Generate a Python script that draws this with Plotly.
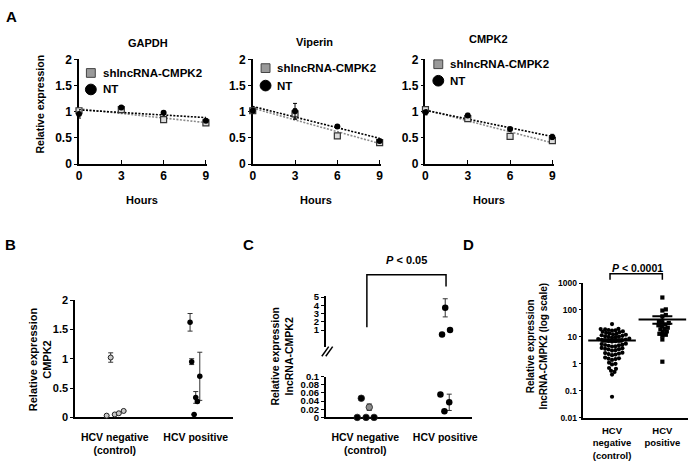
import numpy as np
import plotly.graph_objects as go

W, H = 696, 470
FONT = "Liberation Sans, Arial, sans-serif"

# ---------------- data ----------------
hours = [0, 3, 6, 9]
genes = ["GAPDH", "Viperin", "CMPK2"]
series_names = ["shlncRNA-CMPK2", "NT"]

gapdh_sh = [1.02, 1.04, 0.85, 0.79]
gapdh_sh_err = [0.04, 0.02, 0.03, 0.03]
gapdh_nt = [0.96, 1.08, 0.98, 0.83]
gapdh_nt_err = [0.08, 0.02, 0.03, 0.03]

viperin_sh = [1.02, 0.96, 0.54, 0.41]
viperin_sh_err = [0.04, 0.10, 0.03, 0.03]
viperin_nt = [1.02, 1.01, 0.72, 0.44]
viperin_nt_err = [0.04, 0.15, 0.03, 0.03]

cmpk2_sh = [1.04, 0.87, 0.53, 0.45]
cmpk2_sh_err = [0.03, 0.03, 0.03, 0.03]
cmpk2_nt = [0.99, 0.93, 0.67, 0.52]
cmpk2_nt_err = [0.05, 0.04, 0.02, 0.05]

a_ticks_y = [0, 0.5, 1, 1.5, 2]
a_ticktext_y = ["0", "0.5", "1", "1.5", "2"]

groups = ["HCV negative<br>(control)", "HCV positive"]

# panel B: CMPK2 relative expression
b_neg = [1.02, 0.03, 0.05, 0.07, 0.11]
b_neg_err = [0.08, None, None, None, None]
b_neg_offset = [-0.05, -0.10, 0.0, 0.05, 0.11]
b_pos = [1.62, 0.95, 0.70, 0.34, 0.27, 0.05]
b_pos_err = [0.15, 0.05, 0.41, 0.10, 0.02, None]
b_pos_offset = [-0.07, -0.05, 0.05, 0.0, 0.02, -0.02]

# panel C: lncRNA-CMPK2 relative expression (broken axis)
c_neg = [0.047, 0.025, 0.0, 0.0, 0.0]
c_neg_err = [None, 0.008, None, None, None]
c_neg_offset = [-0.05, 0.05, -0.10, 0.01, 0.11]
c_pos_low = [0.056, 0.037, 0.015]
c_pos_low_err = [None, 0.02, None]
c_pos_low_offset = [-0.06, 0.05, -0.01]
c_pos_high = [3.7, 0.45, 1.0]
c_pos_high_err = [1.1, None, None]
c_pos_high_offset = [0.0, -0.04, 0.06]
c_low_ticks = [0, 0.02, 0.04, 0.06, 0.08, 0.1]
c_low_ticktext = ["0", "0.02", "0.04", "0.06", "0.08", "0.1"]
c_high_ticks = [1, 2, 3, 4, 5]

# panel D: lncRNA-CMPK2 (log scale)
d_neg = [30,
         20, 19.5, 19, 18, 17.5, 17, 16, 15.5, 15, 14, 13.5, 13, 12.5, 12, 11.5, 11, 10.5, 10.2, 10, 9.8, 9.5,
         8.6, 8.3, 8.0, 7.8, 7.6, 7.5, 7.3, 7.1, 6.9, 6.7,
         5.6, 5.4, 5.2, 5.0, 4.9, 4.7, 4.5, 4.4,
         3.9, 3.8, 3.6, 3.5, 3.4, 3.2, 3.1,
         2.6, 2.5, 2.4, 2.3, 2.2, 2.1,
         1.7, 1.6, 1.55, 1.5, 1.4,
         1.1, 1.0, 0.95,
         0.7, 0.65, 0.55, 0.5, 0.4, 0.06]
d_pos = [290, 105, 95, 65, 58, 38, 35, 33, 29, 27, 25, 22, 20, 19, 16, 15, 13, 12, 11, 8, 1.2]
d_ticks = [0.01, 0.1, 1, 10, 100, 1000]
d_ticktext = ["0.01", "0.1", "1", "10", "100", "1000"]
d_groups = ["HCV<br>negative<br>(control)", "HCV<br>positive"]


def X(px):
    return px / W


def Y(py):
    return 1 - py / H


def bold(size):
    return dict(family=FONT, size=size, color="black", weight="bold")


def base_axis(**kw):
    d = dict(showgrid=False, zeroline=False, showline=True, linecolor="black",
             linewidth=1.5, ticks="outside", ticklen=3, tickwidth=1.2,
             tickcolor="black", tickfont=bold(12), layer="below traces",
             fixedrange=True)
    d.update(kw)
    return d


def label(text, x, y, size, xref="paper", yref="paper", xanchor="center", angle=0):
    return dict(text=text, x=x, y=y, xref=xref, yref=yref, xanchor=xanchor,
                yanchor="middle", textangle=angle, showarrow=False, font=bold(size))


fig = go.Figure()
layout = dict(width=W, height=H, margin=dict(l=0, r=0, t=0, b=0),
              paper_bgcolor="white", plot_bgcolor="rgba(0,0,0,0)",
              showlegend=False, font=dict(family=FONT, color="black"))
annotations = []
shapes = []

# ---------------- panel A ----------------
a_sets = [(gapdh_sh, gapdh_sh_err, gapdh_nt, gapdh_nt_err),
          (viperin_sh, viperin_sh_err, viperin_nt, viperin_nt_err),
          (cmpk2_sh, cmpk2_sh_err, cmpk2_nt, cmpk2_nt_err)]
a_left = [77, 253, 428]
a_title_pos = [(147, 37), (316, 36), (492, 33)]
a_legend_y = [(68, 85), (63, 81), (59, 76)]
a_legend_x = [89, 266, 441]

for i, (sh, sh_e, nt, nt_e) in enumerate(a_sets):
    sfx = "" if i == 0 else str(i + 1)
    xid, yid = "x" + sfx, "y" + sfx
    layout["xaxis" + sfx] = base_axis(domain=[X(a_left[i]), X(a_left[i] + 130)],
                                      range=[0, 9.1], anchor=yid, tickvals=hours,
                                      ticks="inside", ticklen=4)
    layout["yaxis" + sfx] = base_axis(domain=[Y(162), Y(54)], range=[0, 2],
                                      anchor=xid, tickvals=a_ticks_y,
                                      ticktext=a_ticktext_y)
    # fitted trend lines
    for vals, col in ((sh, "#8a8a8a"), (nt, "black")):
        k, b = np.polyfit(hours, vals, 1)
        xs = np.array([hours[0], hours[-1]], dtype=float)
        fig.add_trace(go.Scatter(x=xs, y=k * xs + b, mode="lines", xaxis=xid, yaxis=yid,
                                 line=dict(color=col, width=1.6, dash="2px,1.5px"),
                                 hoverinfo="skip", cliponaxis=False))
    fig.add_trace(go.Scatter(x=hours, y=sh, mode="markers", xaxis=xid, yaxis=yid,
                             name=series_names[0], cliponaxis=False,
                             marker=dict(symbol="square", size=6, color="#dcdcdc",
                                         line=dict(color="#333333", width=1.2)),
                             error_y=dict(type="data", array=sh_e, color="#333333",
                                          thickness=1, width=2)))
    fig.add_trace(go.Scatter(x=hours, y=nt, mode="markers", xaxis=xid, yaxis=yid,
                             name=series_names[1], cliponaxis=False,
                             marker=dict(symbol="circle", size=6, color="black"),
                             error_y=dict(type="data", array=nt_e, color="black",
                                          thickness=1, width=2)))
    tx, ty = a_title_pos[i]
    annotations.append(label(genes[i], X(tx), Y(ty), 11))
    annotations.append(label("Hours", X(a_left[i] + 64), Y(199), 11))
    # legend keys
    lx = a_legend_x[i]
    ly1, ly2 = a_legend_y[i]
    shapes.append(dict(type="rect", xref="paper", yref="paper",
                       x0=X(lx - 4.5), x1=X(lx + 4.5), y0=Y(ly1 + 4.5), y1=Y(ly1 - 4.5),
                       fillcolor="#9a9a9a", line=dict(color="#444444", width=1)))
    shapes.append(dict(type="circle", xref="paper", yref="paper",
                       x0=X(lx - 5.5), x1=X(lx + 5.5), y0=Y(ly2 + 5.5), y1=Y(ly2 - 5.5),
                       fillcolor="black", line=dict(color="black", width=1)))
    annotations.append(label(series_names[0], X(lx + 10), Y(ly1), 11.5, xanchor="left"))
    annotations.append(label(series_names[1], X(lx + 10), Y(ly2), 11.5, xanchor="left"))

annotations.append(label("Relative expression", X(37), Y(100), 10.5, angle=-90))

# ---------------- panel B ----------------
layout["xaxis4"] = base_axis(domain=[X(73), X(233)], range=[-0.49, 1.46], anchor="y4",
                             tickvals=[0, 1], ticktext=groups, tickfont=bold(10.5),
                             ticklen=9, tickcolor="rgba(0,0,0,0)")
layout["yaxis4"] = base_axis(domain=[Y(423), Y(302)], range=[0, 2], anchor="x4",
                             tickvals=[0, 0.5, 1, 1.5, 2],
                             ticktext=["0", "0.5", "1", "1.5", "2"], tickfont=bold(11))
fig.add_trace(go.Scatter(x=[0 + o for o in b_neg_offset], y=b_neg, mode="markers",
                         xaxis="x4", yaxis="y4", cliponaxis=False,
                         marker=dict(size=5, color="#c8c8c8", line=dict(color="#222", width=1)),
                         error_y=dict(type="data", array=b_neg_err, color="#333",
                                      thickness=1, width=2.5)))
fig.add_trace(go.Scatter(x=[1 + o for o in b_pos_offset], y=b_pos, mode="markers",
                         xaxis="x4", yaxis="y4", cliponaxis=False,
                         marker=dict(size=5.5, color="black"),
                         error_y=dict(type="data", array=b_pos_err, color="#333",
                                      thickness=1, width=2.5)))
annotations.append(label("Relative expression<br>CMPK2", X(37.5), Y(363), 11, angle=-90))

# ---------------- panel C ----------------
layout["xaxis5"] = base_axis(domain=[X(327), X(475)], range=[-0.494, 1.333], anchor="y5",
                             tickvals=[0, 1], ticktext=groups, tickfont=bold(10.5),
                             ticklen=9, tickcolor="rgba(0,0,0,0)")
layout["yaxis5"] = base_axis(domain=[Y(423), Y(381)], range=[0, 0.1], anchor="x5",
                             tickvals=c_low_ticks, ticktext=c_low_ticktext,
                             tickfont=bold(9.5))
layout["yaxis6"] = base_axis(domain=[Y(350), Y(298)], range=[-1, 5.12], anchor="x5",
                             tickvals=c_high_ticks, tickfont=bold(9.5))
fig.add_trace(go.Scatter(x=[0 + o for o in c_neg_offset], y=c_neg, mode="markers",
                         xaxis="x5", yaxis="y5", cliponaxis=False,
                         marker=dict(size=6.5, color=["black", "#8c8c8c", "black", "black", "black"],
                                     line=dict(color="#222", width=0.8)),
                         error_y=dict(type="data", array=c_neg_err, color="#333",
                                      thickness=1, width=2.5)))
fig.add_trace(go.Scatter(x=[1 + o for o in c_pos_low_offset], y=c_pos_low, mode="markers",
                         xaxis="x5", yaxis="y5", cliponaxis=False,
                         marker=dict(size=6.5, color="black"),
                         error_y=dict(type="data", array=c_pos_low_err, color="#333",
                                      thickness=1, width=2.5)))
fig.add_trace(go.Scatter(x=[1 + o for o in c_pos_high_offset], y=c_pos_high, mode="markers",
                         xaxis="x5", yaxis="y6", cliponaxis=False,
                         marker=dict(size=6.5, color="black"),
                         error_y=dict(type="data", array=c_pos_high_err, color="#333",
                                      thickness=1, width=2.5)))
annotations.append(label("Relative expression<br>lncRNA-CMPK2", X(283), Y(360), 10.5, angle=-90))
# axis break marks
for dx in (0, 4):
    shapes.append(dict(type="line", xref="paper", yref="paper",
                       x0=X(323 + dx), y0=Y(360), x1=X(330 + dx), y1=Y(350),
                       line=dict(color="black", width=1.5)))
# significance bracket
shapes.append(dict(type="path", xref="x5", yref="paper",
                   path=f"M 0.02,{Y(330)} L 0.02,{Y(276)} L 1.01,{Y(276)} L 1.01,{Y(288)}",
                   line=dict(color="black", width=1.5)))
annotations.append(label("<i>P</i> &lt; 0.05", 0.52, Y(261), 11, xref="x5"))


# ---------------- panel D ----------------
def swarm(vals, px_per_unit, px_per_decade, diam):
    vals = np.asarray(vals, dtype=float)
    order = np.argsort(vals)
    placed = []
    offs = np.zeros(len(vals))
    for i in order:
        yy = np.log10(vals[i]) * px_per_decade
        chosen = 0.0
        for k in range(400):
            found = False
            for s in ((0,) if k == 0 else (1, -1)):
                xx = s * k * 0.5
                if all((xx - px) ** 2 + (yy - py) ** 2 >= diam ** 2 for px, py in placed):
                    chosen = xx
                    found = True
                    break
            if found:
                break
        placed.append((chosen, yy))
        offs[i] = chosen / px_per_unit
    return offs


d_px_unit = 51.0
d_px_dec = 27.8
neg_off = swarm(d_neg, d_px_unit, d_px_dec, 3.4)
pos_off = swarm(d_pos, d_px_unit, d_px_dec, 3.6)

layout["xaxis6"] = base_axis(domain=[X(588), X(694)], range=[-0.569, 1.51], anchor="y7",
                             tickvals=[0, 1], ticktext=d_groups, tickfont=bold(9.5),
                             ticklen=3, tickcolor="rgba(0,0,0,0)")
layout["yaxis7"] = base_axis(domain=[Y(423.3), Y(284.5)], type="log", range=[-2, 3],
                             anchor="x6", tickvals=d_ticks, ticktext=d_ticktext,
                             tickfont=bold(8.5))
fig.add_trace(go.Scatter(x=0 + neg_off, y=d_neg, mode="markers", xaxis="x6", yaxis="y7",
                         cliponaxis=False, marker=dict(size=4.2, color="black")))
fig.add_trace(go.Scatter(x=1 + pos_off, y=d_pos, mode="markers", xaxis="x6", yaxis="y7",
                         cliponaxis=False, marker=dict(symbol="square", size=4.2, color="black")))
means = [float(np.mean(d_neg)), float(np.mean(d_pos))]
sems = [float(np.std(d_neg, ddof=1) / np.sqrt(len(d_neg))),
        float(np.std(d_pos, ddof=1) / np.sqrt(len(d_pos)))]
fig.add_trace(go.Scatter(x=[0, 1], y=means, mode="markers", xaxis="x6", yaxis="y7",
                         cliponaxis=False,
                         marker=dict(symbol="line-ew", size=34, color="black",
                                     line=dict(color="black", width=2)),
                         error_y=dict(type="data", array=sems, color="black",
                                      thickness=2, width=10)))
annotations.append(label("Relative expression<br>lncRNA-CMPK2 (log scale)", X(541), Y(350),
                         10, angle=-90))
shapes.append(dict(type="path", xref="x6", yref="paper",
                   path=f"M -0.04,{Y(281)} L -0.04,{Y(275)} L 1.0,{Y(275)} L 1.0,{Y(281)}",
                   line=dict(color="black", width=1.5)))
annotations.append(label("<i>P</i> &lt; 0.0001", 0.5, Y(269), 10.5, xref="x6"))

# panel letters
for txt, (lx, ly) in zip(["A", "B", "C", "D"], [(9, 10), (8, 245), (249, 245), (472, 245)]):
    annotations.append(label(txt, X(lx), Y(ly), 15))

layout["annotations"] = annotations
layout["shapes"] = shapes
fig.update_layout(**layout)
fig.write_html("out.html", config={"displayModeBar": False},
               post_script="document.body.style.margin='0';")
